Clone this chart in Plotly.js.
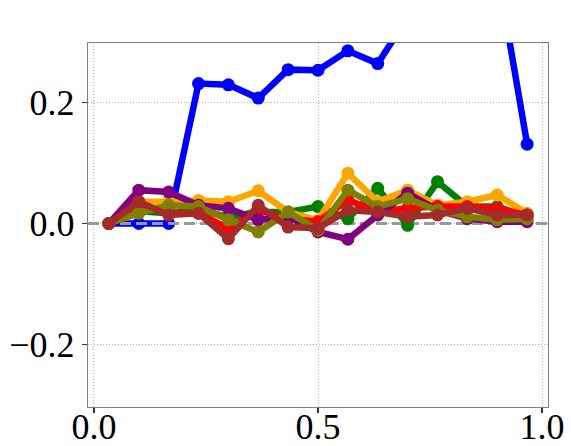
<!DOCTYPE html>
<html>
<head>
<meta charset="utf-8">
<script src="https://cdn.plot.ly/plotly-3.0.1.min.js"></script>
<style>html,body{margin:0;padding:0;background:#fff;}#chart{width:571px;height:446px;}</style>
</head>
<body>
<div id="chart"></div>
<script>
// x positions: 15 bin centres
const xVals = [0.0333, 0.1, 0.1667, 0.2333, 0.3, 0.3667, 0.4333, 0.5, 0.5667, 0.6333, 0.7, 0.7667, 0.8333, 0.9, 0.9667];

const blueVals   = [0, 0, 0, 0.231, 0.229, 0.207, 0.254, 0.253, 0.285, 0.264, 0.34, 0.36, 0.39, 0.42, 0.131];
const greenVals  = [0, 0.02, 0.017, 0.022, 0.011, 0.019, 0.019, 0.028, 0.008, 0.058, -0.003, 0.069, 0.028, 0.028, 0.011];
const orangeVals = [0, 0.036, 0.036, 0.038, 0.036, 0.054, 0.019, 0.005, 0.083, 0.036, 0.055, 0.03, 0.036, 0.047, 0.017];
const redVals    = [0, 0.028, 0.017, 0.017, -0.008, 0.022, 0.008, 0.003, 0.039, 0.019, 0.025, 0.028, 0.028, 0.025, 0.014];
const purpleVals = [0, 0.055, 0.052, 0.03, 0.025, 0.006, 0.011, -0.014, -0.026, 0.014, 0.05, 0.022, 0.008, 0.003, 0.003];
const oliveVals  = [0, 0.017, 0.03, 0.028, 0.006, -0.014, 0.019, -0.011, 0.055, 0.028, 0.041, 0.022, 0.011, 0.006, 0.008];
const brownVals  = [0, 0.036, 0.014, 0.017, -0.025, 0.03, -0.006, -0.008, 0.022, 0.019, 0.011, 0.014, 0.025, 0.014, 0.014];

const baseline = 0;
const xRange = [-0.01333, 1.01333];
const yRange = [-0.303, 0.298];
const xTicks = [0, 0.5, 1.0];
const xTickText = ['0.0', '0.5', '1.0'];
const yTicks = [-0.2, 0, 0.2];
const yTickText = ['\u22120.2', '0.0', '0.2'];

function series(y, color) {
  return {x: xVals, y: y, mode: 'lines+markers', type: 'scatter',
    line: {color: color, width: 6.5}, marker: {color: color, size: 13},
    showlegend: false, hoverinfo: 'skip'};
}

const traces = [
  series(blueVals, '#0000ff'),
  {x: xRange, y: [baseline, baseline], mode: 'lines', type: 'scatter',
   line: {color: '#999999', width: 3, dash: '11px,5px'}, showlegend: false, hoverinfo: 'skip'},
  series(greenVals, '#008000'),
  series(orangeVals, '#ffa500'),
  series(redVals, '#ff0000'),
  series(purpleVals, '#800080'),
  series(oliveVals, '#808000'),
  series(brownVals, '#a52a2a')
];

const font = {family: '"Liberation Serif", "DejaVu Serif", serif', size: 36, color: '#000'};

const axisCommon = {
  showgrid: true, gridcolor: '#b0b0b0', griddash: '1px,2px', gridwidth: 1,
  zeroline: false, showline: true, linecolor: '#808080', linewidth: 1.2, mirror: true,
  ticks: 'outside', ticklen: 5, tickcolor: '#333', tickwidth: 1.2, tickfont: font
};

const layout = {
  width: 571, height: 446,
  margin: {l: 88, r: 23, t: 43, b: 39, pad: 0},
  paper_bgcolor: '#fff', plot_bgcolor: '#fff',
  font: font,
  xaxis: Object.assign({range: xRange, tickvals: xTicks, ticktext: xTickText, ticklabelstandoff: -17}, axisCommon),
  yaxis: Object.assign({range: yRange, tickvals: yTicks, ticktext: yTickText}, axisCommon)
};

Plotly.newPlot('chart', traces, layout, {staticPlot: true, displayModeBar: false});
</script>
</body>
</html>
